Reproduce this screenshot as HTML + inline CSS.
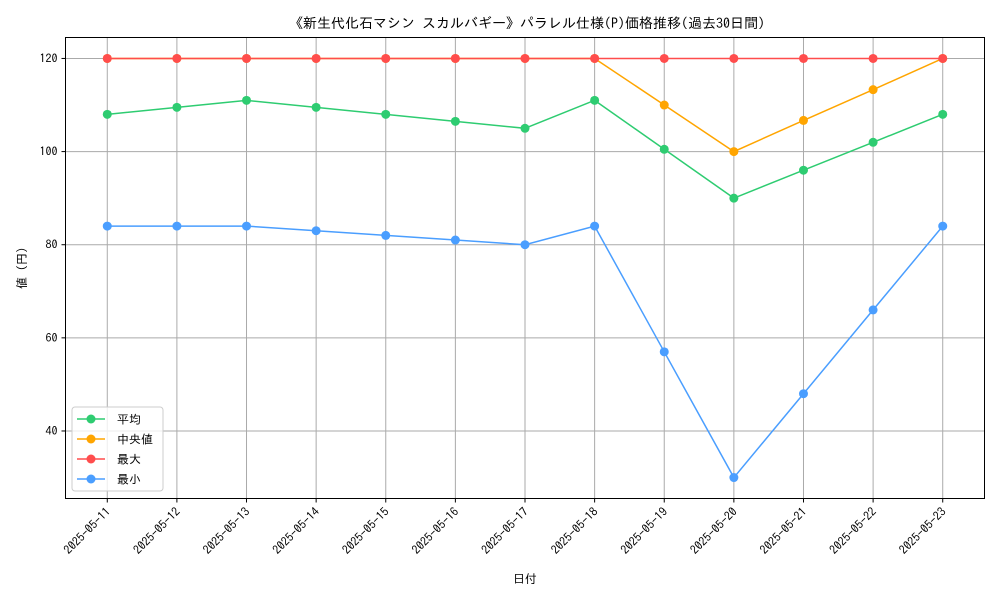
<!DOCTYPE html>
<html><head><meta charset="utf-8"><style>
body{margin:0;background:#fff}
text{font-family:"IPAGothic","Noto Sans CJK JP",sans-serif;fill:#000}
</style></head><body>
<svg id="c" width="1000" height="600"></svg>
<script>
const categories=["2025-05-11","2025-05-12","2025-05-13","2025-05-14","2025-05-15","2025-05-16","2025-05-17","2025-05-18","2025-05-19","2025-05-20","2025-05-21","2025-05-22","2025-05-23"];
const avgValues=[108,109.5,111,109.5,108,106.5,105,111,100.5,90,96,102,108];
const medianValues=[120,120,120,120,120,120,120,120,110,100,106.7,113.3,120];
const maxValues=[120,120,120,120,120,120,120,120,120,120,120,120,120];
const minValues=[84,84,84,83,82,81,80,84,57,30,48,66,84];
const yTicks=[40,60,80,100,120];
const L=65.5,R=984.5,T=37.5,B=498.5,ymin=25.5,ymax=124.5;
const n=categories.length;
const xs=i=>L+(i+0.6)/(n-1+1.2)*(R-L);
const ys=v=>B-(v-ymin)/(ymax-ymin)*(B-T);
const svg=document.getElementById('c');const NS='http://www.w3.org/2000/svg';
function mk(t,a,p){const e=document.createElementNS(NS,t);for(const k in a)e.setAttribute(k,a[k]);(p||svg).appendChild(e);return e;}
let e;
e=mk('text',{x:527,y:28,'text-anchor':'middle','font-size':14});e.textContent='《新生代化石マシン スカルバギー》パラレル仕様(P)価格推移(過去30日間)';

categories.forEach((c,i)=>{const x=xs(i);
 e=mk('line',{x1:x,x2:x,y1:T,y2:B,stroke:'#aaa','stroke-width':1});
 mk('line',{x1:x,x2:x,y1:B,y2:B+4,stroke:'#000'});
 e=mk('text',{x:0,y:0,'text-anchor':'end','font-size':12,transform:`translate(${x+4},${B+14}) rotate(-45)`});e.textContent=c;
 
});
yTicks.forEach(v=>{const y=ys(v);
 e=mk('line',{x1:L,x2:R,y1:y,y2:y,stroke:'#aaa','stroke-width':1});
 mk('line',{x1:L-4,x2:L,y1:y,y2:y,stroke:'#000'});
 e=mk('text',{x:L-8,y:y+4,'text-anchor':'end','font-size':12});e.textContent=v;
 
});
e=mk('rect',{x:L,y:T,width:R-L,height:B-T,fill:'none',stroke:'#000','stroke-width':1});
const series=[["平均",avgValues,"#2ecc71"],["中央値",medianValues,"#ffa500"],["最大",maxValues,"#ff4d4d"],["最小",minValues,"#4a9eff"]];
series.forEach(([nm,vals,col])=>{
 e=mk('polyline',{points:vals.map((v,i)=>xs(i)+','+ys(v)).join(' '),fill:'none',stroke:col,'stroke-width':1.5});
 
 vals.forEach((v,i)=>{e=mk('circle',{cx:xs(i),cy:ys(v),r:4.5,fill:col});});
});
e=mk('text',{x:525,y:583,'text-anchor':'middle','font-size':12});e.textContent='日付';
e=mk('text',{x:0,y:0,'text-anchor':'middle','font-size':12,transform:'translate(26,268) rotate(-90)'});e.textContent='値 (円)';
const lg=mk('g',{});
mk('rect',{x:72,y:407,width:91,height:84,rx:3,fill:'#fff','fill-opacity':0.8,stroke:'#ccc'},lg);
series.forEach(([nm,vals,col],k)=>{const y=419+k*20;
 const g=mk('g',{},lg);
 mk('line',{x1:77,x2:105,y1:y,y2:y,stroke:col,'stroke-width':1.5},g);
 mk('circle',{cx:91,cy:y,r:4.5,fill:col},g);
 const t=mk('text',{x:117,y:y+4.5,'font-size':12},g);t.textContent=nm;
});
</script></body></html>
